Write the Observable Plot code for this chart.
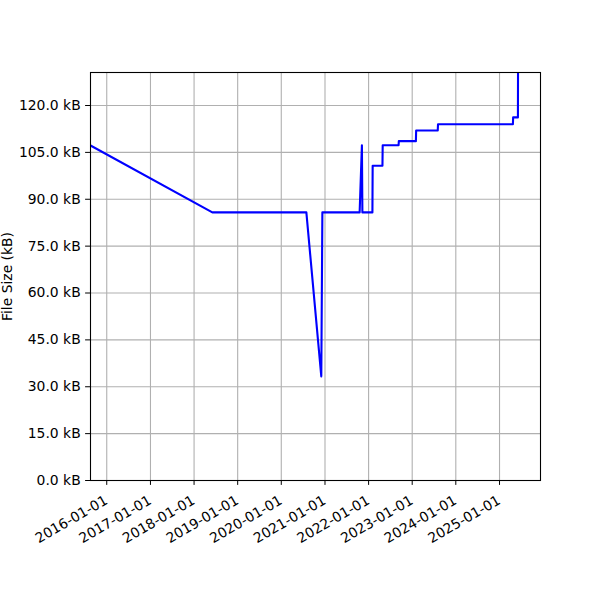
<!DOCTYPE html>
<html>
<head>
<meta charset="utf-8">
<script src="https://cdn.jsdelivr.net/npm/d3@7"></script>
<script src="https://cdn.jsdelivr.net/npm/@observablehq/plot@0.6"></script>
<style>
  html, body { margin: 0; padding: 0; background: #fff; }
  #chart svg { display: block; }
</style>
</head>
<body>
<div id="chart"></div>
<script>
// Data
const dates = ["2015-08-18","2018-06-03","2020-07-29","2020-12-01","2020-12-10","2021-10-18","2021-11-06","2021-11-10","2022-02-02","2022-02-04","2022-04-27","2022-04-29","2022-09-09","2022-09-11","2023-02-01","2023-02-03","2023-08-03","2023-08-05","2025-04-23","2025-04-25","2025-06-04","2025-06-06"];
const sizesKB = [107.2, 85.8, 85.8, 33.3, 85.8, 85.8, 107.3, 85.8, 85.8, 100.7, 100.7, 107.3, 107.3, 108.6, 108.6, 112.0, 112.0, 114.0, 114.0, 116.2, 116.2, 150];
const yTicks = [0, 15, 30, 45, 60, 75, 90, 105, 120];
const xTickLabels = ["2016-01-01","2017-01-01","2018-01-01","2019-01-01","2020-01-01","2021-01-01","2022-01-01","2023-01-01","2024-01-01","2025-01-01"];
const xDomain = ["2015-08-18", "2025-12-10"];
const yMax = 130.56;

const data = dates.map((d, i) => ({date: new Date(d + "T00:00:00Z"), size: sizesKB[i]}));
const xTicks = xTickLabels.map(d => new Date(d + "T00:00:00Z"));
const fmtDate = d3.utcFormat("%Y-%m-%d");

const chart = Plot.plot({
  width: 600,
  height: 600,
  marginLeft: 90,
  marginRight: 60,
  marginTop: 72,
  marginBottom: 120,
  style: {fontFamily: "DejaVu Sans", fontSize: "13.9px", color: "#000", background: "#fff"},
  x: {type: "utc", domain: xDomain.map(d => new Date(d + "T00:00:00Z"))},
  y: {domain: [0, yMax]},
  marks: [
    Plot.gridX(xTicks, {stroke: "#b0b0b0", strokeOpacity: 1, strokeWidth: 1.1}),
    Plot.gridY(yTicks, {stroke: "#b0b0b0", strokeOpacity: 1, strokeWidth: 1.1}),
    Plot.line(data, {x: "date", y: "size", stroke: "#0000ff", strokeWidth: 2.1, clip: true}),
    Plot.frame({stroke: "#000", strokeWidth: 1.1}),
    Plot.axisY({
      ticks: yTicks,
      tickFormat: d => d.toFixed(1) + " kB",
      tickSize: 4.9,
      tickPadding: 4.9,
      fontSize: 13.9,
      label: "File Size (kB)",
      labelAnchor: "center",
      labelArrow: "none",
      labelOffset: 88
    }),
    Plot.axisX({
      ticks: xTicks,
      tickFormat: () => "",
      tickSize: 4.9,
      label: null
    }),
    Plot.text(xTicks, {
      x: d => d,
      frameAnchor: "bottom",
      text: d => fmtDate(d),
      rotate: -30,
      textAnchor: "end",
      lineAnchor: "top",
      fontSize: 13.9,
      fill: "#000",
      dx: -3,
      dy: 14
    })
  ]
});
document.getElementById("chart").appendChild(chart);
</script>
</body>
</html>
